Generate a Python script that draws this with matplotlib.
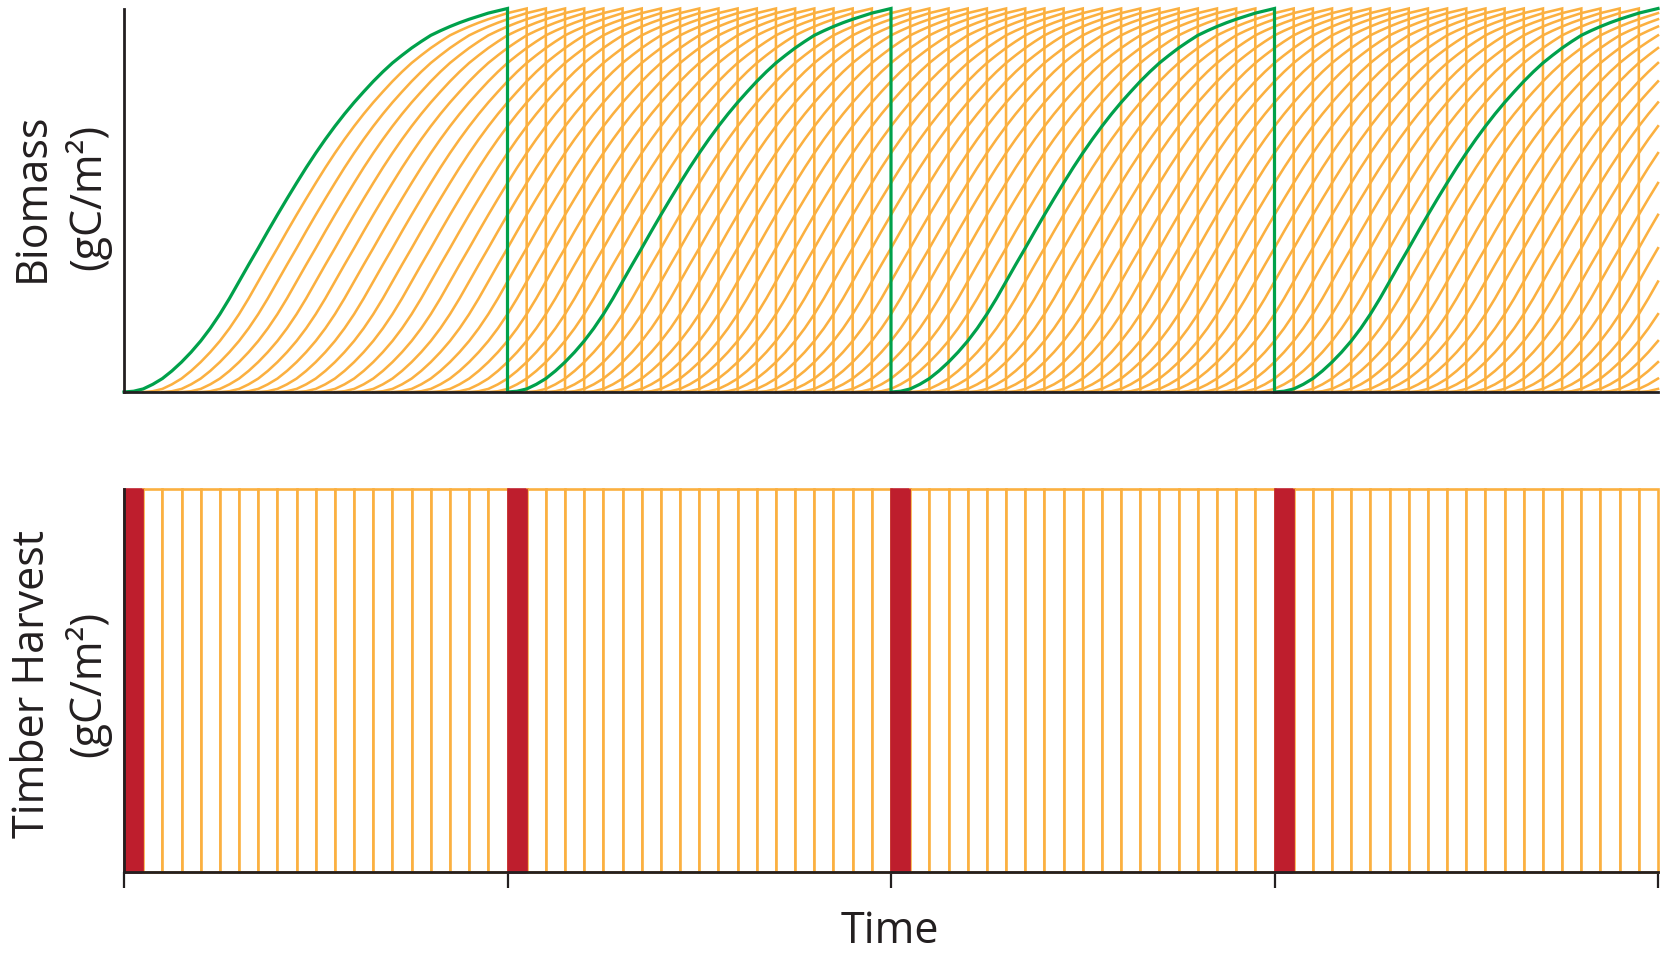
import numpy as np
import matplotlib
matplotlib.use("Agg")
import matplotlib.pyplot as plt

plt.rcParams['font.family'] = ['Open Sans', 'DejaVu Sans']

# growth curve of one stand (fraction of max biomass), read every half year of age
ages = np.arange(0, 20.5, 0.5)
growth = [0.000, 0.002, 0.008, 0.020, 0.035, 0.055, 0.078, 0.104, 0.133, 0.166,
          0.203, 0.244, 0.288, 0.332, 0.375, 0.419, 0.462, 0.504, 0.545, 0.585,
          0.623, 0.659, 0.693, 0.725, 0.755, 0.783, 0.810, 0.835, 0.858, 0.878,
          0.897, 0.914, 0.930, 0.942, 0.953, 0.963, 0.972, 0.980, 0.988, 0.994,
          1.000]
rotation = 20
n_years = 80
stand_starts = list(range(20))          # stand 0 is the highlighted one
harvest_years = list(range(n_years))
harvest = [1.0] * n_years               # same harvest every year
highlight_harvests = [0, 20, 40, 60]

green = '#00a14b'
orange = '#fbb040'
red = '#be1e2d'
dark = '#231f20'

fig = plt.figure(figsize=(16.6, 9.55), dpi=100)
ax1 = fig.add_axes([124/1660, 1-392/955, 1534/1660, 383.5/955])
ax2 = fig.add_axes([124/1660, 83/955, 1534/1660, 383/955])

def stand_series(start):
    xs, ys = [], []
    s = start
    while s < n_years:
        for a, g in zip(ages, growth):
            if s + a > n_years:
                break
            xs.append(s + a)
            ys.append(g)
        s += rotation
    return xs, ys

for k in stand_starts[::-1]:
    xs, ys = stand_series(k)
    if k == 0:
        ax1.plot(xs, ys, color=green, lw=2.3, zorder=5, clip_on=False,
                 solid_joinstyle='miter')
    else:
        ax1.plot(xs, ys, color=orange, lw=1.85, zorder=3, clip_on=False,
                 solid_joinstyle='miter')

ax1.set_xlim(0, n_years)
ax1.set_ylim(0, 1)
ax1.set_xticks([])
ax1.set_yticks([])

cols = [red if y in highlight_harvests else 'white' for y in harvest_years]
edges = [red if y in highlight_harvests else orange for y in harvest_years]
ax2.bar(harvest_years, harvest, width=1, align='edge', color=cols,
        edgecolor=edges, linewidth=1.9, clip_on=False, zorder=3)
# redraw red on top so neighbours' edges don't cover them
hl = [y for y in harvest_years if y in highlight_harvests]
ax2.bar(hl, [harvest[y] for y in hl], width=1, align='edge', color=red,
        edgecolor=red, linewidth=0.5, clip_on=False, zorder=4)

ax2.set_xlim(0, n_years)
ax2.set_ylim(0, 1)
ax2.set_xticks(range(0, n_years + 1, rotation))
ax2.set_xticklabels([])
ax2.set_yticks([])
ax2.tick_params(axis='x', direction='out', length=11.5, width=1.6, color=dark)

for ax in (ax1, ax2):
    for side in ('top', 'right'):
        ax.spines[side].set_visible(False)
    for side in ('left', 'bottom'):
        ax.spines[side].set_color(dark)
        ax.spines[side].set_linewidth(2.0)
        ax.spines[side].set_zorder(6)

fig.text(61/1660, 1-197/955, 'Biomass\n(gC/m²)', rotation=90, ha='center',
         va='center', fontsize=31, color=dark, linespacing=1.27)
fig.text(61/1660, 1-684/955, 'Timber Harvest\n(gC/m²)', rotation=90, ha='center',
         va='center', fontsize=31, color=dark, linespacing=1.27)
fig.text(890/1660, 1-943/955, 'Time', ha='center', va='baseline', fontsize=31,
         color=dark)

fig.savefig('out.png', dpi=100)
